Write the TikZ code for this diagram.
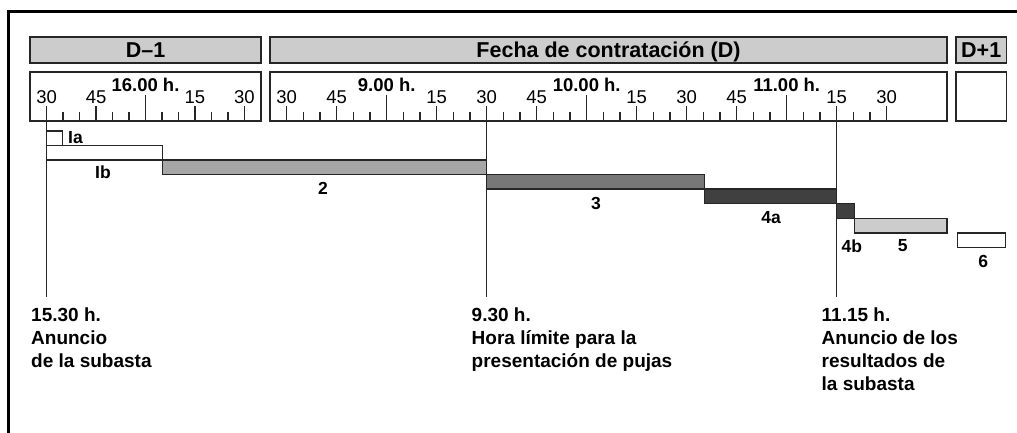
\documentclass[tikz,border=0pt]{standalone}
\usepackage{fontspec}
\setmainfont{Liberation Sans}
\definecolor{hdr}{HTML}{CCCCCC}
\definecolor{gtwo}{HTML}{A6A6A6}
\definecolor{gthree}{HTML}{777777}
\definecolor{gfour}{HTML}{404040}
\definecolor{gfive}{HTML}{CCCCCC}
\definecolor{ink}{HTML}{262626}
\begin{document}
\begin{tikzpicture}[x=1pt,y=-1pt,
  hdrbox/.style={draw=ink,line width=1.6pt,fill=hdr},
  scalebox/.style={draw=ink,line width=1.6pt,fill=white},
  tickline/.style={draw=ink,line width=1.4pt},
  vline/.style={draw=ink,line width=1.4pt},
  barbox/.style={draw=ink,line width=1.5pt},
  hdrtext/.style={font=\fontsize{21.5}{25}\selectfont\bfseries,anchor=base,inner sep=0pt},
  numtext/.style={font=\fontsize{18.5}{22}\selectfont,anchor=base,inner sep=0pt},
  hourtext/.style={font=\fontsize{18.5}{22}\selectfont\bfseries,anchor=base,inner sep=0pt},
  bartext/.style={font=\fontsize{17.5}{21}\selectfont\bfseries,inner sep=0pt},
  eventtext/.style={font=\fontsize{19}{23}\selectfont\bfseries,anchor=base west,align=left,inner sep=0pt}
]
\useasboundingbox (0,0) rectangle (1017,433);
\fill[white] (0,0) rectangle (1017,433);
% outer frame
\draw[line width=3pt,black] (8.7,433) -- (8.7,11.7) -- (1017,11.7);

% header bars
\draw[hdrbox] (30,37) rectangle (261,63);
\draw[hdrbox] (270,37) rectangle (947,63);
\draw[hdrbox] (956,37) rectangle (1006.5,63);
\node[hdrtext] (hd1) at (145.5,57.5) {D–1};
\node[hdrtext] (hd) at (608.5,57.5) {Fecha de contratación (D)};
\node[hdrtext] (hd2) at (981.2,57.5) {D+1};

% scale boxes
\draw[scalebox] (30,72) rectangle (261,121);
\draw[scalebox] (270,72) rectangle (947,121);
\draw[scalebox] (956,72) rectangle (1006.5,121);

% ticks D-1 (15:30 to 16:30)
\foreach \i in {0,...,12}{
  \pgfmathtruncatemacro\mm{mod(30+5*\i,60)}
  \pgfmathtruncatemacro\qq{mod(30+5*\i,15)}
  \ifnum\mm=0 \def\tkt{95}\else\ifnum\qq=0 \def\tkt{106}\else\def\tkt{111.7}\fi\fi
  \draw[tickline] (46.7+\i*16.47,121) -- (46.7+\i*16.47,\tkt);
}
% ticks D (8:30 to 11:30)
\foreach \i in {0,...,36}{
  \pgfmathtruncatemacro\mm{mod(30+5*\i,60)}
  \pgfmathtruncatemacro\qq{mod(30+5*\i,15)}
  \ifnum\mm=0 \def\tkt{95}\else\ifnum\qq=0 \def\tkt{106}\else\def\tkt{111.7}\fi\fi
  \draw[tickline] (286.7+\i*16.667,121) -- (286.7+\i*16.667,\tkt);
}

% scale labels D-1
\node[numtext] (a1) at (46.7,103.3) {30};
\node[numtext] (a2) at (96.1,103.3) {45};
\node[hourtext] (a3) at (145.5,91.7) {16.00 h.};
\node[numtext] (a4) at (194.9,103.3) {15};
\node[numtext] (a5) at (244.3,103.3) {30};
% scale labels D
\node[numtext] (b1) at (286.7,103.3) {30};
\node[numtext] (b2) at (336.7,103.3) {45};
\node[hourtext] (b3) at (386.7,91.7) {9.00 h.};
\node[numtext] (b4) at (436.7,103.3) {15};
\node[numtext] (b5) at (486.7,103.3) {30};
\node[numtext] (b6) at (536.7,103.3) {45};
\node[hourtext] (b7) at (586.7,91.7) {10.00 h.};
\node[numtext] (b8) at (636.7,103.3) {15};
\node[numtext] (b9) at (686.7,103.3) {30};
\node[numtext] (b10) at (736.7,103.3) {45};
\node[hourtext] (b11) at (786.7,91.7) {11.00 h.};
\node[numtext] (b12) at (836.7,103.3) {15};
\node[numtext] (b13) at (886.7,103.3) {30};

% vertical event lines
\coordinate (e1t) at (46.7,121);  \coordinate (e1b) at (46.7,296.7);
\coordinate (e2t) at (486.7,121); \coordinate (e2b) at (486.7,296.7);
\coordinate (e3t) at (836.7,121); \coordinate (e3b) at (836.7,296.7);

% bars
\draw[barbox,fill=white] (46.7,131) rectangle (62.7,145.5);
\draw[barbox,fill=white] (46.7,145.5) rectangle (162.3,159.8);
\draw[barbox,fill=gtwo] (162.3,159.8) rectangle (486.7,174.3);
\draw[barbox,fill=gthree] (486.7,174.3) rectangle (704.5,188.9);
\draw[barbox,fill=gfour] (704.5,188.9) rectangle (836.7,203.7);
\draw[barbox,fill=gfour] (836.7,203.7) rectangle (854.5,218.5);
\draw[barbox,fill=gfive] (854.5,218.5) rectangle (947,233);
\draw[barbox,fill=white] (957.5,233) rectangle (1005.5,247.7);

\draw[vline] (e1t) -- (e1b);
\draw[vline] (e2t) -- (e2b);
\draw[vline] (e3t) -- (e3b);

% bar labels
\node[bartext,anchor=west] (lIa) at (68,137.5) {Ia};
\node[bartext] (lIb) at (103,172.7) {Ib};
\node[bartext] (l2) at (323,188) {2};
\node[bartext] (l3) at (596,203) {3};
\node[bartext] (l4a) at (771,217.8) {4a};
\node[bartext] (l4b) at (851.8,246) {4b};
\node[bartext] (l5) at (902.7,246) {5};
\node[bartext] (l6) at (983.3,261) {6};

% event labels (anchor at baseline of last line)
\node[eventtext] (t1) at (31,367.5) {15.30 h.\\Anuncio\\de la subasta};
\node[eventtext] (t2) at (471.5,367.5) {9.30 h.\\Hora límite para la\\presentación de pujas};
\node[eventtext] (t3) at (821.5,390.5) {11.15 h.\\Anuncio de los\\resultados de\\la subasta};
\end{tikzpicture}
\end{document}
